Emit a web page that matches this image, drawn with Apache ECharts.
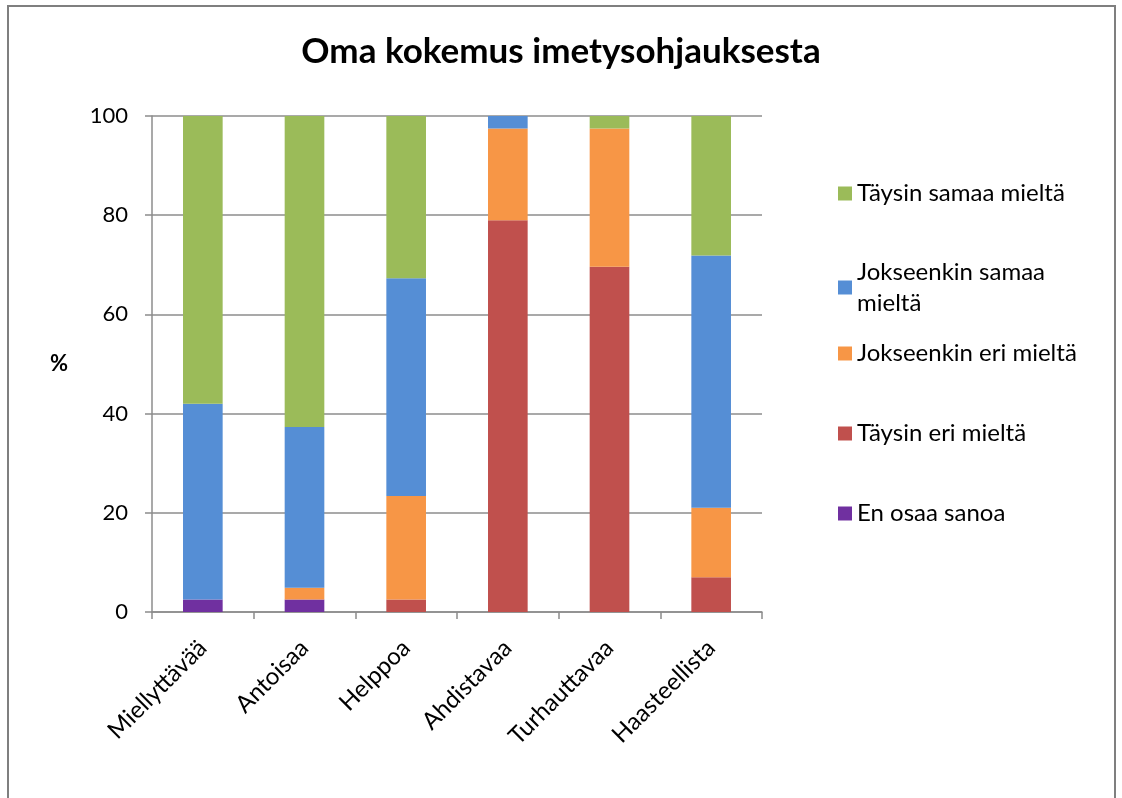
<!DOCTYPE html>
<html>
<head>
<meta charset="utf-8">
<script src="https://cdn.jsdelivr.net/npm/echarts@6/dist/echarts.min.js"></script>
<style>
  html, body { margin: 0; padding: 0; background: #fff; }
  #chart { width: 1122px; height: 798px; }
</style>
</head>
<body>
<div id="chart"></div>
<script>
// categories along the x axis
const categories = ['Miellyttävää', 'Antoisaa', 'Helppoa', 'Ahdistavaa', 'Turhauttavaa', 'Haasteellista'];

// series values in %, stacked bottom to top
const enOsaa = [2.5, 2.5, 0, 0, 0, 0];
const taysinEri = [0, 0, 2.5, 79, 69.6, 7];
const jokseenkinEri = [0, 2.4, 20.9, 18.5, 27.9, 14];
const jokseenkinSamaa = [39.5, 32.4, 43.9, 2.5, 0, 50.9];
const taysinSamaa = [58, 62.7, 32.7, 0, 2.5, 28.1];

const yTicks = [0, 20, 40, 60, 80, 100];

const seriesDefs = [
  { name: 'En osaa sanoa', data: enOsaa, color: '#7030A0' },
  { name: 'Täysin eri mieltä', data: taysinEri, color: '#C0504D' },
  { name: 'Jokseenkin eri mieltä', data: jokseenkinEri, color: '#F79646' },
  { name: 'Jokseenkin samaa mieltä', data: jokseenkinSamaa, color: '#558ED5' },
  { name: 'Täysin samaa mieltä', data: taysinSamaa, color: '#9BBB59' }
];

const FONT = 'Lato';
const chart = echarts.init(document.getElementById('chart'));

// legend in reverse order, one legend per item so the spacing matches
const legendTops = [173, 255, 333, 413, 493];
const legends = seriesDefs.slice().reverse().map((s, i) => ({
  data: [s.name],
  orient: 'vertical',
  left: 833,
  top: legendTops[i],
  itemWidth: 14,
  itemHeight: 14,
  icon: 'rect',
  selectedMode: false,
  formatter: (name) => name === 'Jokseenkin samaa mieltä' ? 'Jokseenkin samaa\nmieltä' : name,
  textStyle: {
    fontFamily: FONT,
    fontSize: 24,
    color: '#000',
    lineHeight: 31
  }
}));
legends[1].textStyle.verticalAlign = 'top';
legends[1].textStyle.padding = [-8, 0, 0, 0];

chart.setOption({
  animation: false,
  title: {
    text: 'Oma kokemus imetysohjauksesta',
    left: 'center',
    top: 29,
    textStyle: { fontFamily: FONT, fontSize: 35, fontWeight: 'bold', color: '#000' }
  },
  legend: legends,
  grid: { left: 152, right: 360, top: 116, bottom: 186 },
  xAxis: {
    type: 'category',
    data: categories,
    axisLine: { lineStyle: { color: '#8c8c8c', width: 1.5 } },
    axisTick: { show: true, length: 7, lineStyle: { color: '#8c8c8c', width: 1.5 } },
    axisLabel: {
      rotate: 45,
      margin: 32,
      fontFamily: FONT,
      fontSize: 24,
      color: '#000'
    }
  },
  yAxis: {
    type: 'value',
    min: 0,
    max: 100,
    interval: 20,
    name: '%',
    nameLocation: 'middle',
    nameRotate: 0,
    nameGap: 84,
    nameTextStyle: { fontFamily: FONT, fontSize: 22, fontWeight: 'bold', color: '#000' },
    axisLine: { show: true, lineStyle: { color: '#8c8c8c', width: 1.5 } },
    axisTick: { show: true, length: 7, lineStyle: { color: '#8c8c8c', width: 1.5 } },
    axisLabel: {
      margin: 24,
      fontFamily: FONT,
      fontSize: 22,
      color: '#000',
      formatter: v => yTicks.includes(v) ? String(v) : ''
    },
    splitLine: { lineStyle: { color: '#8c8c8c', width: 1.5 } }
  },
  series: seriesDefs.map(s => ({
    name: s.name,
    type: 'bar',
    stack: 'total',
    barWidth: '39%',
    data: s.data,
    itemStyle: { color: s.color }
  })),
  graphic: [{
    type: 'rect',
    shape: { x: 8, y: 6, width: 1107, height: 820 },
    style: { fill: null, stroke: '#7f7f7f', lineWidth: 2 },
    silent: true
  }]
});
</script>
</body>
</html>
